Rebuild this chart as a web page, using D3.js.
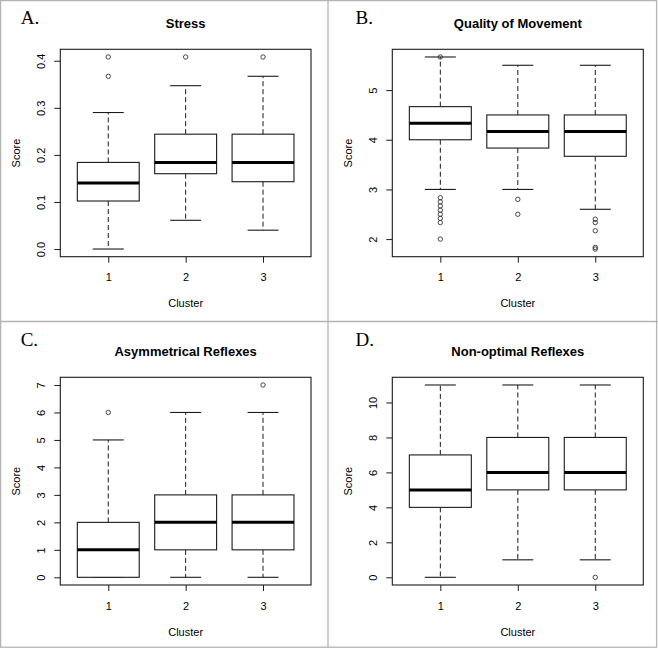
<!DOCTYPE html>
<html>
<head>
<meta charset="utf-8">
<script src="https://cdn.jsdelivr.net/npm/d3@7/dist/d3.min.js"></script>
<style>
  html, body { margin: 0; padding: 0; background: #fff; }
  svg { display: block; }
  text { font-family: "Liberation Sans", Arial, Helvetica, sans-serif; fill: #000; }
</style>
</head>
<body>
<svg id="chart" width="658" height="648"></svg>
<script>
// ---- Data ----
const clusters = ["1", "2", "3"];

// Stats per cluster: [lower whisker, Q1, median, Q3, upper whisker]
const stressStats = [[0.0, 0.102, 0.140, 0.184, 0.290], [0.061, 0.160, 0.184, 0.244, 0.347], [0.040, 0.143, 0.184, 0.244, 0.367]];
const stressOutliers = [[0.367, 0.408], [0.408], [0.408]];
const stressTicks = [0.0, 0.1, 0.2, 0.3, 0.4];

const qualityStats = [[3.0, 4.0, 4.333, 4.667, 5.667], [3.0, 3.833, 4.167, 4.5, 5.5], [2.6, 3.667, 4.167, 4.5, 5.5]];
const qualityOutliers = [[5.667, 2.833, 2.75, 2.667, 2.583, 2.5, 2.417, 2.333, 2.0], [2.8, 2.5], [2.4, 2.333, 2.167, 1.833, 1.8]];
const qualityTicks = [2, 3, 4, 5];

const asymStats = [[0, 0, 1, 2, 5], [0, 1, 2, 3, 6], [0, 1, 2, 3, 6]];
const asymOutliers = [[6], [], [7]];
const asymTicks = [0, 1, 2, 3, 4, 5, 6, 7];

const nonoptStats = [[0, 4, 5, 7, 11], [1, 5, 6, 8, 11], [1, 5, 6, 8, 11]];
const nonoptOutliers = [[], [], [0]];
const nonoptTicks = [0, 2, 4, 6, 8, 10];

const titles = ["Stress", "Quality of Movement", "Asymmetrical Reflexes", "Non-optimal Reflexes"];
const letters = ["A.", "B.", "C.", "D."];
const xLabel = "Cluster";
const yLabel = "Score";

// ---- Layout ----
const panels = [
  { stats: stressStats, outliers: stressOutliers, ticks: stressTicks, fmt: d3.format(".1f"),
    x0: 60.3, x1: 311, y0: 49.3, y1: 256.7, lx: 20.7, ly: 24 },
  { stats: qualityStats, outliers: qualityOutliers, ticks: qualityTicks, fmt: d3.format("d"),
    x0: 392.3, x1: 643.3, y0: 49.3, y1: 256.7, lx: 355.5, ly: 24 },
  { stats: asymStats, outliers: asymOutliers, ticks: asymTicks, fmt: d3.format("d"),
    x0: 60.3, x1: 311, y0: 377.3, y1: 585, lx: 20.7, ly: 346 },
  { stats: nonoptStats, outliers: nonoptOutliers, ticks: nonoptTicks, fmt: d3.format("d"),
    x0: 392.3, x1: 643.3, y0: 377.3, y1: 585, lx: 355.5, ly: 346 }
];

const svg = d3.select("#chart");
svg.append("rect").attr("x", 0).attr("y", 0).attr("width", 658).attr("height", 648).attr("fill", "#fff");

// Panel borders (gray frame)
const frame = svg.append("g").attr("stroke", "#b4b4b4").attr("stroke-width", 1.3).attr("fill", "none");
frame.append("rect").attr("x", 0.6).attr("y", 0.6).attr("width", 656).attr("height", 646.6);
frame.append("line").attr("x1", 328).attr("x2", 328).attr("y1", 0).attr("y2", 648);
frame.append("line").attr("x1", 0).attr("x2", 658).attr("y1", 321.5).attr("y2", 321.5);

const ink = "#1a1a1a";

panels.forEach((p, i) => {
  const g = svg.append("g");
  const allVals = p.stats.flat().concat(p.outliers.flat());
  const [mn, mx] = d3.extent(allVals);
  const pad = (mx - mn) * 0.04;
  const y = d3.scaleLinear().domain([mn - pad, mx + pad]).range([p.y1, p.y0]);
  const x = d3.scaleLinear().domain([0.38, 3.62]).range([p.x0, p.x1]);
  const unit = x(1) - x(0);

  // Plot box
  g.append("rect").attr("x", p.x0).attr("y", p.y0).attr("width", p.x1 - p.x0).attr("height", p.y1 - p.y0)
    .attr("fill", "none").attr("stroke", ink).attr("stroke-width", 1.1);

  // Y axis
  const yAxis = d3.axisLeft(y).tickValues(p.ticks).tickFormat(p.fmt).tickSize(6).tickSizeOuter(0);
  const ya = g.append("g").attr("transform", `translate(${p.x0},0)`).call(yAxis);
  ya.select(".domain").remove();
  ya.selectAll(".tick line").attr("stroke", ink).attr("stroke-width", 1);
  ya.selectAll(".tick text")
    .attr("x", 0).attr("y", 0).attr("dy", null)
    .attr("transform", "translate(-19.5,0) rotate(-90)")
    .attr("text-anchor", "middle").attr("dominant-baseline", "central")
    .style("font-family", "'Liberation Sans', Arial, sans-serif").style("font-size", "11px").attr("fill", "#000");

  // X axis
  const xAxis = d3.axisBottom(x).tickValues([1, 2, 3]).tickFormat((d) => clusters[d - 1]).tickSize(6).tickSizeOuter(0);
  const xa = g.append("g").attr("transform", `translate(0,${p.y1})`).call(xAxis);
  xa.select(".domain").remove();
  xa.selectAll(".tick line").attr("stroke", ink).attr("stroke-width", 1);
  xa.selectAll(".tick text").attr("y", 20.5).attr("dy", null).attr("dominant-baseline", "central")
    .style("font-family", "'Liberation Sans', Arial, sans-serif").style("font-size", "11px").attr("fill", "#000");

  // Labels
  g.append("text").attr("x", (p.x0 + p.x1) / 2).attr("y", p.y1 + 46.5).attr("text-anchor", "middle")
    .attr("dominant-baseline", "central").style("font-size", "11px").text(xLabel);
  g.append("text").attr("transform", `translate(${p.x0 - 44},${(p.y0 + p.y1) / 2}) rotate(-90)`)
    .attr("text-anchor", "middle").attr("dominant-baseline", "central").style("font-size", "11px").text(yLabel);
  g.append("text").attr("x", (p.x0 + p.x1) / 2).attr("y", p.y0 - 21.5).attr("text-anchor", "middle")
    .style("font-size", "13px").style("font-weight", "bold").text(titles[i]);
  g.append("text").attr("x", p.lx).attr("y", p.ly)
    .style("font-family", "'Liberation Serif', 'Times New Roman', serif").style("font-size", "19px").text(letters[i]);

  // Boxplots
  p.stats.forEach((s, j) => {
    const cx = x(j + 1);
    const bw = 0.4 * unit, sw = 0.2 * unit;
    const [lo, q1, md, q3, hi] = s;
    const bg = g.append("g");
    // whiskers (dashed)
    bg.append("line").attr("x1", cx).attr("x2", cx).attr("y1", y(q3)).attr("y2", y(hi))
      .attr("stroke", ink).attr("stroke-width", 1).attr("stroke-dasharray", "5,3");
    bg.append("line").attr("x1", cx).attr("x2", cx).attr("y1", y(q1)).attr("y2", y(lo))
      .attr("stroke", ink).attr("stroke-width", 1).attr("stroke-dasharray", "5,3");
    // staples
    [lo, hi].forEach((v) => {
      bg.append("line").attr("x1", cx - sw).attr("x2", cx + sw).attr("y1", y(v)).attr("y2", y(v))
        .attr("stroke", ink).attr("stroke-width", 1.1);
    });
    // box
    bg.append("rect").attr("x", cx - bw).attr("y", y(q3)).attr("width", 2 * bw).attr("height", y(q1) - y(q3))
      .attr("fill", "#fff").attr("stroke", ink).attr("stroke-width", 1.1);
    // median
    bg.append("line").attr("x1", cx - bw).attr("x2", cx + bw).attr("y1", y(md)).attr("y2", y(md))
      .attr("stroke", "#000").attr("stroke-width", 3);
    // outliers
    p.outliers[j].forEach((v) => {
      bg.append("circle").attr("cx", cx).attr("cy", y(v)).attr("r", 2.2)
        .attr("fill", "none").attr("stroke", "#333").attr("stroke-width", 0.9);
    });
  });
});
</script>
</body>
</html>
